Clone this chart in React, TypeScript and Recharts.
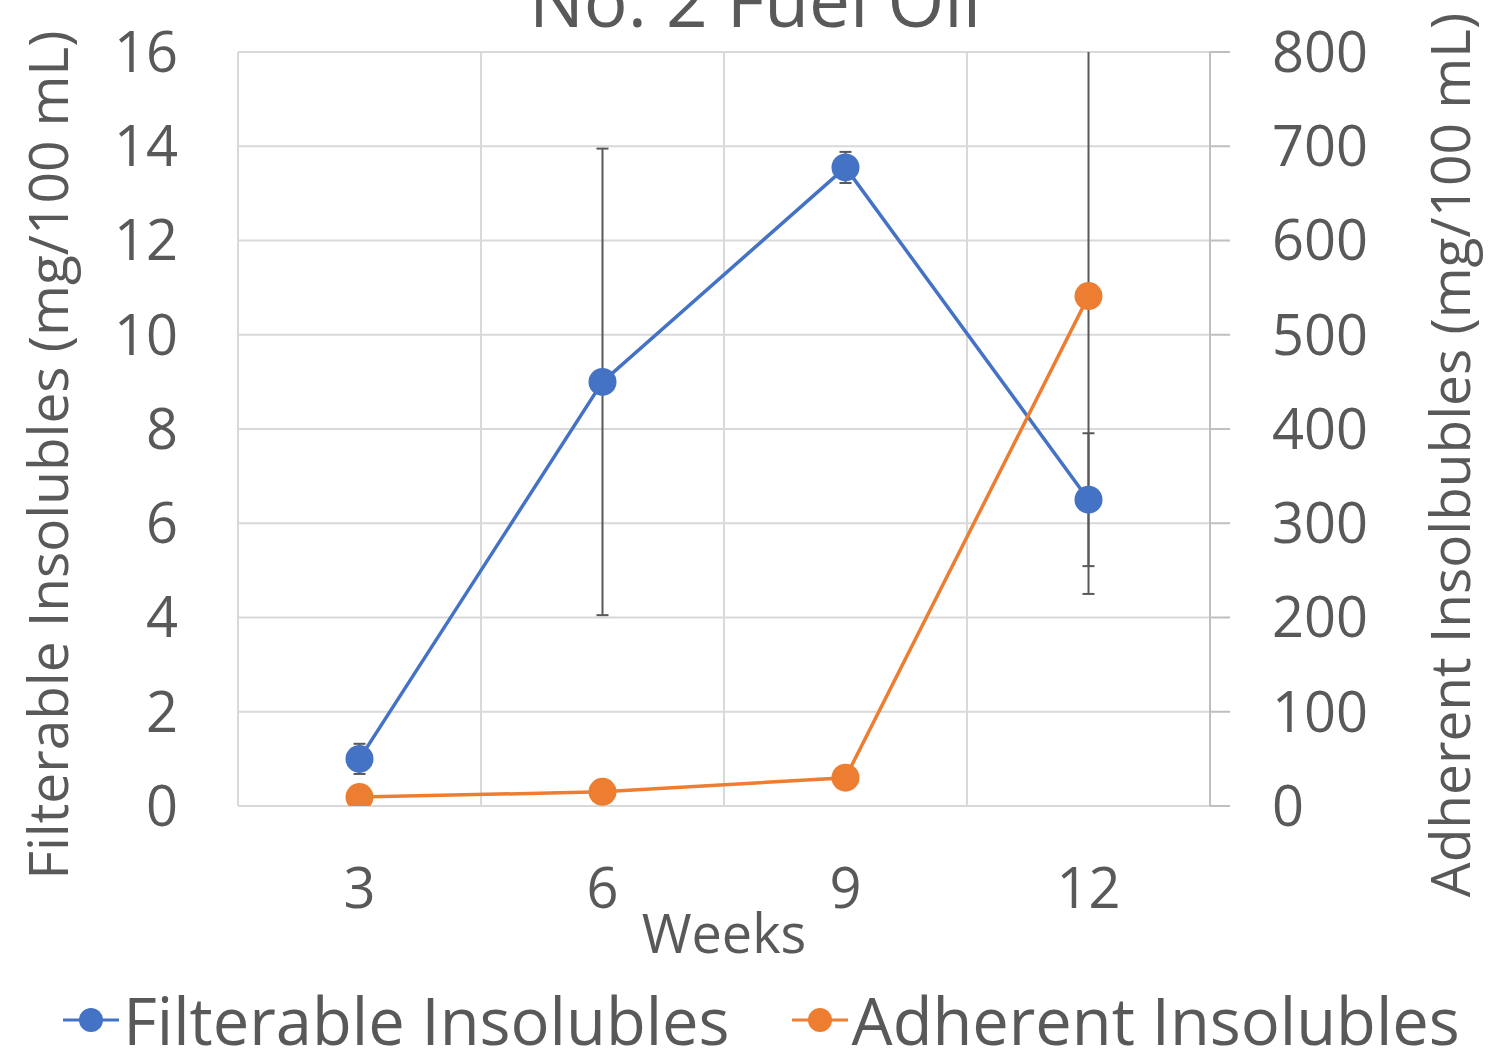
import React from 'react'
import * as R from 'recharts'
import {
  LineChart,
  Line,
  XAxis,
  YAxis,
  CartesianGrid,
  ReferenceLine,
  ErrorBar,
  Legend,
} from 'recharts'

const weeks = [3, 6, 9, 12]
const filterable = [1.0, 9.0, 13.55, 6.5]
const filterableErr = [0.32, 4.95, 0.33, 1.41]
const adherent = [9.5, 15, 30, 541]
const adherentErr = [3, 4, 5, 316]
const leftTicks = [0, 2, 4, 6, 8, 10, 12, 14, 16]
const rightTicks = [0, 100, 200, 300, 400, 500, 600, 700, 800]
const weekBoundaries = [4.5, 7.5, 10.5]
const seriesNames = ['Filterable Insolubles', 'Adherent Insolubles']

const data = weeks.map((w, i) => ({
  week: w,
  filterable: filterable[i],
  filterableErr: filterableErr[i],
  adherent: adherent[i],
  adherentErr: adherentErr[i],
}))

const FONT = '"Open Sans", sans-serif'
const TEXT = '#595959'
const GRID = '#d9d9d9'

// clip error bars to the plot area (the week 12 bar runs past 800)
function PlotClip() {
  const usePA: any = (R as any).usePlotArea
  const useOff: any = (R as any).useOffset
  const hook = usePA || useOff
  const area = hook ? hook() : null
  if (!area) return null
  const x = area.x ?? area.left
  const y = area.y ?? area.top
  return (
    <defs>
      <clipPath id="plot-clip">
        <rect x={x} y={y} width={area.width} height={area.height} />
      </clipPath>
    </defs>
  )
}

function LegendContent(props: any) {
  const items = [...(props.payload || [])].sort(
    (a: any, b: any) => seriesNames.indexOf(a.value) - seriesNames.indexOf(b.value)
  )
  return (
    <div
      style={{
        display: 'flex',
        justifyContent: 'center',
        gap: 62,
        height: 80,
        alignItems: 'flex-end',
        fontFamily: FONT,
        fontSize: 65,
        color: TEXT,
        paddingLeft: 30,
      }}
    >
      {items.map((it: any) => (
        <div key={it.value} style={{ display: 'flex', alignItems: 'center', height: 60 }}>
          <svg width={56} height={30} style={{ marginRight: 4 }}>
            <line x1={0} y1={15} x2={56} y2={15} stroke={it.color} strokeWidth={3} />
            <circle cx={28} cy={15} r={12} fill={it.color} />
          </svg>
          <span style={{ lineHeight: '60px' }}>{it.value}</span>
        </div>
      ))}
    </div>
  )
}

export default function App() {
  return (
    <div style={{ position: 'absolute', top: 0, left: 0, background: '#fff' }}>
      <LineChart
        width={1493}
        height={1050}
        data={data}
        margin={{ top: 52, right: 0, bottom: 0, left: 0 }}
        style={{ fontFamily: FONT }}
      >
        <PlotClip />
        <text
          x={755}
          y={27}
          textAnchor="middle"
          fontSize={73}
          fill={TEXT}
          fontFamily={FONT}
        >
          No. 2 Fuel Oil
        </text>
        <CartesianGrid yAxisId="left" vertical={false} stroke={GRID} strokeWidth={2} />
        {weekBoundaries.map((b) => (
          <ReferenceLine key={b} x={b} yAxisId="left" stroke={GRID} strokeWidth={2} />
        ))}
        <XAxis
          dataKey="week"
          type="number"
          domain={[1.5, 13.5]}
          ticks={weeks}
          interval={0}
          height={164}
          axisLine={{ stroke: GRID, strokeWidth: 2 }}
          tickLine={false}
          tickSize={0}
          tickMargin={62}
          tick={{ fontSize: 56, fill: TEXT }}
          label={{
            value: 'Weeks',
            position: 'insideTop',
            offset: 109,
            fontSize: 54,
            fill: TEXT,
          }}
        />
        <YAxis
          yAxisId="left"
          domain={[0, 16]}
          ticks={leftTicks}
          interval={0}
          width={238}
          axisLine={{ stroke: GRID, strokeWidth: 2 }}
          tickLine={false}
          tickSize={0}
          tickMargin={60}
          tick={{ fontSize: 56, fill: TEXT }}
          label={{
            value: 'Filterable Insolubles (mg/100 mL)',
            angle: -90,
            position: 'insideLeft',
            offset: 48,
            dy: 26,
            fontSize: 55,
            fill: TEXT,
            style: { textAnchor: 'middle' },
          }}
        />
        <YAxis
          yAxisId="right"
          orientation="right"
          domain={[0, 800]}
          ticks={rightTicks}
          interval={0}
          allowDataOverflow
          width={283}
          axisLine={{ stroke: '#bfbfbf', strokeWidth: 2 }}
          tickLine={{ stroke: '#bfbfbf', strokeWidth: 2 }}
          tickSize={20}
          tickMargin={42}
          tick={{ fontSize: 56, fill: TEXT }}
          label={{
            value: 'Adherent Insolbubles (mg/100 mL)',
            angle: -90,
            position: 'insideRight',
            offset: 43,
            dy: 26,
            fontSize: 55,
            fill: TEXT,
            style: { textAnchor: 'middle' },
          }}
        />
        <Line
          yAxisId="left"
          dataKey="filterable"
          name="Filterable Insolubles"
          stroke="#4472c4"
          strokeWidth={3.5}
          dot={{ r: 14, fill: '#4472c4', stroke: '#4472c4', strokeWidth: 0 }}
          activeDot={false}
          isAnimationActive={false}
        >
          <ErrorBar
            dataKey="filterableErr"
            width={6}
            stroke="#595959"
            strokeWidth={2}
            direction="y"
            clipPath="url(#plot-clip)"
          />
        </Line>
        <Line
          yAxisId="right"
          dataKey="adherent"
          name="Adherent Insolubles"
          stroke="#ed7d31"
          strokeWidth={3.5}
          dot={{ r: 14, fill: '#ed7d31', stroke: '#ed7d31', strokeWidth: 0 }}
          activeDot={false}
          isAnimationActive={false}
        >
          <ErrorBar
            dataKey="adherentErr"
            width={6}
            stroke="#595959"
            strokeWidth={2}
            direction="y"
            clipPath="url(#plot-clip)"
          />
        </Line>
        <Legend verticalAlign="bottom" content={<LegendContent />} />
      </LineChart>
    </div>
  )
}
